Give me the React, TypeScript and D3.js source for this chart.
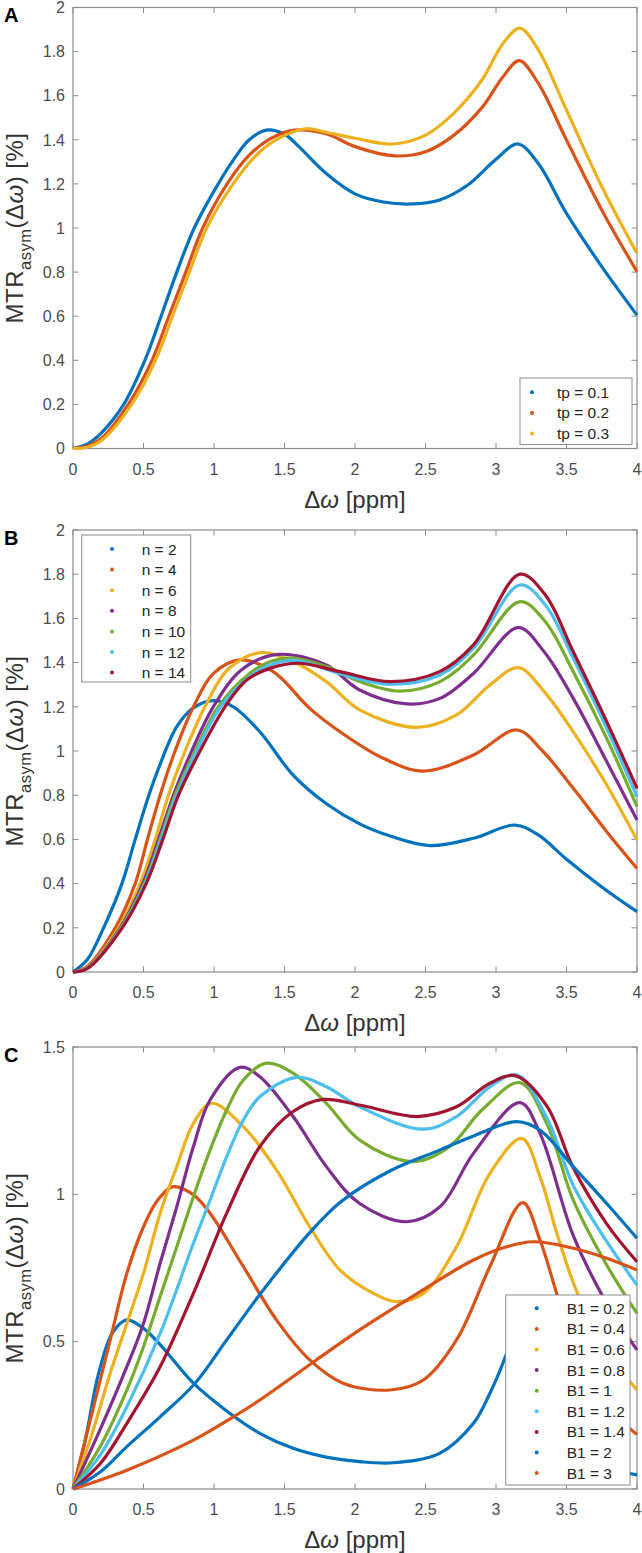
import React from 'react'
import * as d3 from 'd3'

type Pt = [number, number]

// axis ticks
const xTicks = [0, 0.5, 1, 1.5, 2, 2.5, 3, 3.5, 4]
const yTicksAB = [0, 0.2, 0.4, 0.6, 0.8, 1, 1.2, 1.4, 1.6, 1.8, 2]
const yTicksC = [0, 0.5, 1, 1.5]

// MATLAB default line colours
const colors = ['#0072BD', '#D95319', '#EDB120', '#7E2F8E', '#77AC30', '#4DBEEE', '#A2142F']

// ---- panel A : tp ----
const tp01: Pt[] = [[0,0],[0.1,0.02],[0.2,0.07],[0.36,0.2],[0.51,0.4],[0.625,0.6],[0.736,0.8],[0.86,1.0],[1.03,1.2],[1.15,1.32],[1.25,1.4],[1.37,1.444],[1.5,1.425],[1.6,1.37],[1.8,1.245],[2.0,1.155],[2.2,1.118],[2.41,1.109],[2.6,1.127],[2.8,1.195],[3.0,1.312],[3.155,1.381],[3.3,1.293],[3.5,1.066],[3.75,0.825],[4,0.605]]
const tp02: Pt[] = [[0,0],[0.1,0.01],[0.2,0.045],[0.392,0.2],[0.56,0.4],[0.68,0.6],[0.80,0.8],[0.92,1.0],[1.093,1.2],[1.25,1.33],[1.4,1.405],[1.571,1.444],[1.8,1.426],[2.0,1.369],[2.28,1.327],[2.5,1.346],[2.7,1.42],[2.9,1.546],[3.05,1.686],[3.165,1.759],[3.3,1.656],[3.5,1.399],[3.75,1.082],[4,0.802]]
const tp03: Pt[] = [[0,0],[0.1,0.006],[0.2,0.035],[0.416,0.2],[0.585,0.4],[0.705,0.6],[0.825,0.8],[0.948,1.0],[1.136,1.2],[1.3,1.33],[1.455,1.405],[1.65,1.45],[1.8,1.433],[2.0,1.407],[2.27,1.381],[2.5,1.421],[2.7,1.52],[2.9,1.671],[3.05,1.837],[3.17,1.906],[3.3,1.808],[3.5,1.535],[3.75,1.188],[4,0.885]]
const tpLabels = ['tp = 0.1', 'tp = 0.2', 'tp = 0.3']

// ---- panel B : n ----
const n2: Pt[] = [[0,0],[0.1,0.055],[0.217,0.2],[0.347,0.4],[0.441,0.6],[0.528,0.78],[0.594,0.9],[0.736,1.11],[0.854,1.195],[0.995,1.228],[1.137,1.2],[1.325,1.087],[1.561,0.891],[1.8,0.76],[2.033,0.67],[2.25,0.615],[2.532,0.572],[2.84,0.605],[3.135,0.665],[3.3,0.62],[3.5,0.51],[3.75,0.385],[4,0.273]]
const n4: Pt[] = [[0,0],[0.1,0.025],[0.3,0.2],[0.441,0.4],[0.528,0.6],[0.618,0.8],[0.724,1.0],[0.854,1.2],[0.995,1.35],[1.184,1.412],[1.42,1.359],[1.679,1.193],[1.894,1.087],[2.2,0.967],[2.485,0.909],[2.84,0.982],[3.148,1.095],[3.33,1.0],[3.548,0.831],[3.785,0.635],[4,0.469]]
const n6: Pt[] = [[0,0],[0.1,0.02],[0.323,0.2],[0.476,0.4],[0.583,0.6],[0.677,0.8],[0.795,1.0],[0.936,1.2],[1.1,1.37],[1.33,1.445],[1.561,1.404],[1.797,1.314],[2.033,1.186],[2.437,1.107],[2.72,1.163],[2.957,1.299],[3.158,1.377],[3.34,1.27],[3.548,1.087],[3.785,0.846],[4,0.597]]
const n8: Pt[] = [[0,0],[0.1,0.018],[0.335,0.2],[0.495,0.4],[0.606,0.6],[0.712,0.8],[0.842,1.0],[0.995,1.2],[1.2,1.37],[1.455,1.437],[1.797,1.389],[2.033,1.276],[2.366,1.213],[2.603,1.238],[2.84,1.351],[3.158,1.558],[3.34,1.45],[3.548,1.238],[3.785,0.952],[4,0.688]]
const n10: Pt[] = [[0,0],[0.1,0.017],[0.34,0.2],[0.505,0.4],[0.618,0.6],[0.724,0.8],[0.866,1.0],[1.031,1.2],[1.25,1.35],[1.4,1.405],[1.56,1.42],[1.797,1.382],[2.033,1.314],[2.32,1.271],[2.603,1.314],[2.84,1.434],[3.17,1.676],[3.35,1.585],[3.548,1.359],[3.785,1.057],[4,0.748]]
const n12: Pt[] = [[0,0],[0.1,0.016],[0.344,0.2],[0.512,0.4],[0.625,0.6],[0.736,0.8],[0.877,1.0],[1.047,1.2],[1.25,1.335],[1.4,1.39],[1.58,1.41],[1.894,1.35],[2.248,1.302],[2.6,1.344],[2.84,1.465],[3.17,1.751],[3.35,1.661],[3.548,1.419],[3.785,1.103],[4,0.793]]
const n14: Pt[] = [[0,0],[0.1,0.015],[0.349,0.2],[0.519,0.4],[0.637,0.6],[0.748,0.8],[0.901,1.0],[1.078,1.2],[1.23,1.32],[1.4,1.375],[1.6,1.397],[1.894,1.359],[2.248,1.314],[2.6,1.359],[2.84,1.48],[3.17,1.8],[3.35,1.706],[3.548,1.449],[3.785,1.133],[4,0.831]]
const nLabels = ['n = 2', 'n = 4', 'n = 6', 'n = 8', 'n = 10', 'n = 12', 'n = 14']

// ---- panel C : B1 ----
const b02: Pt[] = [[0,0],[0.087,0.166],[0.182,0.393],[0.28,0.53],[0.382,0.574],[0.5,0.545],[0.618,0.49],[0.854,0.359],[1.09,0.265],[1.325,0.189],[1.561,0.138],[1.797,0.108],[2.033,0.093],[2.27,0.089],[2.6,0.121],[2.84,0.223],[2.957,0.325],[3.075,0.46],[3.17,0.6],[3.3,0.42],[3.5,0.18],[3.75,0.08],[4,0.048]]
const b04: Pt[] = [[0,0],[0.146,0.279],[0.264,0.506],[0.382,0.732],[0.5,0.89],[0.6,0.98],[0.712,1.026],[0.85,1.0],[0.972,0.936],[1.208,0.755],[1.443,0.574],[1.679,0.438],[1.915,0.359],[2.248,0.336],[2.485,0.37],[2.72,0.506],[2.957,0.755],[3.19,0.972],[3.312,0.845],[3.43,0.664],[3.55,0.48],[3.75,0.3],[4,0.185]]
const b06: Pt[] = [[0,0],[0.13,0.18],[0.264,0.393],[0.382,0.562],[0.5,0.732],[0.618,0.936],[0.736,1.094],[0.854,1.241],[0.983,1.309],[1.208,1.23],[1.443,1.083],[1.679,0.89],[1.894,0.743],[2.13,0.664],[2.29,0.636],[2.485,0.664],[2.72,0.822],[2.957,1.071],[3.183,1.19],[3.312,1.06],[3.43,0.87],[3.548,0.70],[3.667,0.57],[3.83,0.44],[4,0.336]]
const b08: Pt[] = [[0,0],[0.2,0.21],[0.382,0.415],[0.5,0.562],[0.618,0.766],[0.736,0.958],[0.854,1.162],[0.972,1.32],[1.184,1.431],[1.325,1.399],[1.561,1.264],[1.797,1.094],[2.033,0.969],[2.366,0.907],[2.603,0.958],[2.84,1.139],[3.17,1.311],[3.312,1.207],[3.548,0.86],[3.785,0.63],[4,0.472]]
const b10: Pt[] = [[0,0],[0.2,0.15],[0.382,0.336],[0.5,0.483],[0.618,0.653],[0.736,0.822],[0.854,0.992],[0.972,1.15],[1.09,1.286],[1.208,1.388],[1.373,1.445],[1.561,1.411],[1.797,1.309],[2.033,1.184],[2.41,1.111],[2.67,1.162],[2.9,1.286],[3.17,1.379],[3.36,1.24],[3.548,0.98],[3.785,0.76],[4,0.596]]
const b12: Pt[] = [[0,0],[0.2,0.12],[0.382,0.279],[0.618,0.528],[0.854,0.834],[0.972,0.98],[1.09,1.128],[1.208,1.252],[1.325,1.331],[1.585,1.397],[1.797,1.365],[2.033,1.297],[2.485,1.221],[2.72,1.264],[2.957,1.365],[3.15,1.405],[3.36,1.26],[3.548,1.03],[3.785,0.84],[4,0.692]]
const b14: Pt[] = [[0,0],[0.2,0.09],[0.382,0.223],[0.618,0.415],[0.854,0.664],[1.09,0.936],[1.325,1.162],[1.561,1.281],[1.774,1.322],[2.033,1.303],[2.44,1.264],[2.72,1.297],[2.957,1.377],[3.14,1.402],[3.36,1.30],[3.548,1.09],[3.785,0.9],[4,0.771]]
const b20: Pt[] = [[0,0],[0.2,0.06],[0.382,0.144],[0.618,0.245],[0.866,0.359],[1.09,0.506],[1.325,0.66],[1.679,0.87],[1.9,0.975],[2.25,1.08],[2.6,1.15],[2.85,1.2],[3.15,1.247],[3.312,1.218],[3.548,1.094],[3.785,0.969],[4,0.851]]
const b30: Pt[] = [[0,0],[0.382,0.064],[0.854,0.166],[1.137,0.245],[1.325,0.302],[1.726,0.438],[2.033,0.54],[2.366,0.641],[2.84,0.777],[3.075,0.822],[3.265,0.839],[3.548,0.817],[3.785,0.783],[4,0.743]]
const b1Labels = ['B1 = 0.2', 'B1 = 0.4', 'B1 = 0.6', 'B1 = 0.8', 'B1 = 1', 'B1 = 1.2', 'B1 = 1.4', 'B1 = 2', 'B1 = 3']

const X0 = 73
const X1 = 637
const FONT = '"Liberation Sans", Arial, Helvetica, sans-serif'
const AXIS = '#8c8c8c'
const TICKTXT = '#4d4d4d'

type Legend = { x0: number; x1: number; y0: number; y1: number; first: number; step: number; mx: number; tx: number }

const panels = [
  { letter: 'A', top: 7.5, bottom: 448.5, yMax: 2, yTicks: yTicksAB, series: [tp01, tp02, tp03], labels: tpLabels,
    legend: { x0: 520, x1: 632, y0: 378, y1: 444.5, first: 392.3, step: 20.6, mx: 532, tx: 557 } },
  { letter: 'B', top: 530, bottom: 972, yMax: 2, yTicks: yTicksAB, series: [n2, n4, n6, n8, n10, n12, n14], labels: nLabels,
    legend: { x0: 81.7, x1: 190.7, y0: 535, y1: 682, first: 549, step: 20.6, mx: 112, tx: 141.7 } },
  { letter: 'C', top: 1047, bottom: 1489, yMax: 1.5, yTicks: yTicksC, series: [b02, b04, b06, b08, b10, b12, b14, b20, b30], labels: b1Labels,
    legend: { x0: 505.7, x1: 630, y0: 1295, y1: 1485, first: 1308.3, step: 20.6, mx: 536.7, tx: 566.7 } },
]

const Panel = ({ p }: { p: typeof panels[number] }) => {
  const x = d3.scaleLinear().domain([0, 4]).range([X0, X1])
  const y = d3.scaleLinear().domain([0, p.yMax]).range([p.bottom, p.top])
  const line = d3.line<Pt>().x(d => x(d[0])).y(d => y(d[1])).curve(d3.curveCatmullRom.alpha(0.5))
  const tl = 5.5
  const lg: Legend = p.legend
  const midY = (p.top + p.bottom) / 2
  return (
    <g>
      <text x={4} y={p.top + 14.5} fontFamily={FONT} fontWeight="bold" fontSize={20} fill="#000">{p.letter}</text>
      {/* axes box */}
      <rect x={X0} y={p.top} width={X1 - X0} height={p.bottom - p.top} fill="none" stroke={AXIS} strokeWidth={1.2} />
      {xTicks.map(t => (
        <g key={'x' + t}>
          <line x1={x(t)} x2={x(t)} y1={p.bottom} y2={p.bottom - tl} stroke={AXIS} strokeWidth={1} />
          <line x1={x(t)} x2={x(t)} y1={p.top} y2={p.top + tl} stroke={AXIS} strokeWidth={1} />
          <text x={x(t)} y={p.bottom + 26} textAnchor="middle" fontFamily={FONT} fontSize={16} fill={TICKTXT}>{String(t)}</text>
        </g>
      ))}
      {p.yTicks.map(t => (
        <g key={'y' + t}>
          <line x1={X0} x2={X0 + tl} y1={y(t)} y2={y(t)} stroke={AXIS} strokeWidth={1} />
          <line x1={X1} x2={X1 - tl} y1={y(t)} y2={y(t)} stroke={AXIS} strokeWidth={1} />
          <text x={X0 - 8} y={y(t)} dy="0.36em" textAnchor="end" fontFamily={FONT} fontSize={16} fill={TICKTXT}>{String(t)}</text>
        </g>
      ))}
      <text x={(X0 + X1) / 2} y={p.bottom + 59} textAnchor="middle" fontFamily={FONT} fontSize={24} fill="#333">
        Δ<tspan fontStyle="italic">ω</tspan> [ppm]
      </text>
      <text transform={`translate(22.5,${midY}) rotate(-90)`} textAnchor="middle" fontFamily={FONT} fontSize={24} letterSpacing={0.5} fill="#333">
        MTR<tspan fontSize={16.5} dy={8.5}>asym</tspan><tspan dy={-8.5}>(Δ</tspan><tspan fontStyle="italic">ω</tspan>) [%]
      </text>
      {p.series.map((s, i) => (
        <path key={i} d={line(s) || ''} fill="none" stroke={colors[i % colors.length]} strokeWidth={3.2} strokeLinejoin="round" />
      ))}
      <rect x={lg.x0} y={lg.y0} width={lg.x1 - lg.x0} height={lg.y1 - lg.y0} fill="#fff" stroke={AXIS} strokeWidth={1} />
      {p.labels.map((l, i) => (
        <g key={l}>
          <circle cx={lg.mx} cy={lg.first + i * lg.step} r={2} fill={colors[i % colors.length]} />
          <text x={lg.tx} y={lg.first + i * lg.step} dy="0.36em" fontFamily={FONT} fontSize={15.5} fill="#262626">{l}</text>
        </g>
      ))}
    </g>
  )
}

const App = () => {
  return (
    <svg width={642} height={1553} style={{ position: 'absolute', left: 0, top: 0, background: '#fff' }}>
      {panels.map(p => <Panel key={p.letter} p={p} />)}
    </svg>
  )
}

export default App
